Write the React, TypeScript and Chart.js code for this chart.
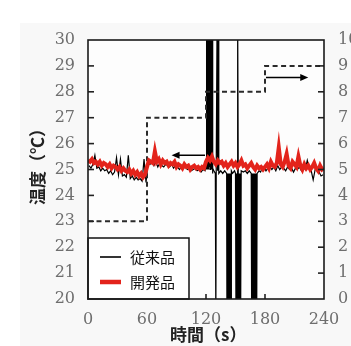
import { useEffect, useRef } from 'react';
import { Chart, registerables } from 'chart.js';
Chart.register(...registerables);

// ---- data ----
const timeTicks = [0, 60, 120, 180, 240];
// 開発品: sampled every 2 s from t = 0 to 240
const redTemps = [
  25.35, 25.3, 25.4, 25.25, 25.3, 25.2, 25.3, 25.15, 25.25, 25.2,
  25.1, 25.2, 25.05, 25.15, 25.1, 25.0, 25.1, 24.95, 25.05, 24.95,
  24.9, 25.0, 24.85, 24.95, 24.8, 24.9, 24.75, 24.85, 24.7, 24.8,
  25.1, 25.35, 25.3, 25.25, 25.7, 25.3, 25.4, 25.2, 25.35, 25.25,
  25.3, 25.15, 25.25, 25.2, 25.3, 25.1, 25.2, 25.15, 25.05, 25.2,
  25.1, 25.15, 25.0, 25.1, 25.15, 25.05, 25.1, 25.0, 25.1, 25.05,
  25.3, 25.45, 25.35, 25.5, 25.3, 25.2, 25.35, 25.25, 25.3, 25.15,
  25.25, 25.1, 25.2, 25.3, 25.15, 25.25, 25.1, 25.2, 25.35, 25.15,
  25.2, 25.05, 25.15, 25.25, 25.1, 25.0, 25.15, 25.05, 25.1, 25.0,
  25.1, 25.2, 25.05, 25.3, 25.15, 25.1, 25.25, 25.85, 25.2, 25.1,
  25.3, 25.6, 25.15, 25.05, 25.3, 25.2, 25.1, 25.5, 25.15, 25.0,
  25.2, 25.05, 25.15, 25.0, 25.1, 25.25, 25.05, 24.95, 25.15, 25.0,
  25.05,
];
// 従来品: t = 1, 3, ..., 119
const blackEarlyTemps = [
  25.15, 25.05, 25.2, 25.55, 25.05, 25.1, 24.95, 25.05, 24.95, 25.0,
  24.85, 24.95, 24.8, 24.9, 25.45, 24.8, 25.4, 24.75, 24.8, 24.7,
  25.55, 24.65, 24.75, 24.6, 24.7, 24.6, 24.65, 24.55, 25.4, 24.5,
  25.25, 25.2, 25.3, 25.15, 25.3, 25.1, 25.25, 25.15, 25.1, 25.2,
  25.15, 25.1, 25.2, 25.05, 25.15, 25.1, 25.0, 25.1, 25.05, 25.1,
  25.0, 25.05, 24.95, 25.0, 25.05, 24.95, 25.0, 24.9, 25.0, 24.95,
];
// 従来品: unstable section [time, temp]
const blackSpikePoints: [number, number][] = [
  [120, 25.2], [120.3, 31], [120.6, 25], [120.9, 31], [121.2, 25.1], [121.5, 31],
  [121.8, 25], [122.1, 31], [122.4, 25.2], [122.7, 31], [123, 25], [123.3, 31],
  [123.6, 25.1], [123.9, 31], [124.2, 25], [124.5, 31], [124.8, 25.1], [125.1, 31],
  [125.4, 25], [125.7, 31], [126, 25], [126.3, 31], [126.6, 24.85], [127, 25.05],
  [128, 24.95], [129.5, 24.85], [130, 19], [130.4, 24.95], [131.3, 31], [131.8, 24.95],
  [132.6, 31], [133, 24.85], [135, 24.95], [137, 24.85], [139, 24.95], [141, 24.85],
  [141.3, 19], [141.6, 24.85], [141.9, 19], [142.2, 24.85], [142.5, 19], [142.8, 24.85],
  [143.1, 19], [143.4, 24.85], [143.7, 19], [144, 24.85], [144.3, 19], [144.6, 24.85],
  [144.9, 19], [145.2, 24.85], [145.5, 19], [145.8, 24.95], [147, 24.85], [149, 24.95],
  [150, 24.85], [150.5, 19], [150.8, 24.85], [151.1, 19], [151.4, 24.85], [151.7, 19],
  [152, 24.85], [152.4, 31], [152.8, 24.85], [153.1, 19], [153.4, 24.85], [153.7, 19],
  [154, 24.85], [154.3, 19], [154.6, 24.85], [154.9, 19], [155.2, 24.85], [155.5, 19],
  [155.8, 24.95], [158, 24.9], [160, 24.95], [162, 24.85], [164, 24.95], [166, 24.85],
  [166.3, 19], [166.6, 24.85], [166.9, 19], [167.2, 24.85], [167.5, 19], [167.8, 24.85],
  [168.1, 19], [168.4, 24.85], [168.7, 19], [169, 24.85], [169.3, 19], [169.6, 24.85],
  [169.9, 19], [170.2, 24.85], [170.5, 19], [170.8, 24.85], [171.1, 19], [171.4, 24.85],
  [171.7, 19], [172, 24.85], [174, 24.95], [175.5, 24.9],
];
// 従来品: t = 177, 179, ..., 239
const blackLateTemps = [
  25.05, 25.1, 24.95, 25.05, 25.1, 25.0, 25.1, 24.95, 25.15, 25.0,
  25.1, 25.05, 24.95, 25.1, 25.0, 25.05, 24.9, 25.05, 25.0, 25.1,
  24.95, 25.1, 25.0, 25.35, 25.05, 24.95, 24.6, 25.0, 25.05, 24.9,
  24.75, 24.8,
];
// step profile (right axis)
const setTimes = [0, 60, 60, 120, 120, 180, 180, 240];
const setLevels = [3, 3, 7, 7, 8, 8, 9, 9];
// arrows (right-axis level)
const arrowFrom = [119, 181];
const arrowTo = [85, 224];
const arrowLevels = [5.55, 8.55];
const legendLabels = ['従来品', '開発品'];
const yTitle = '温度（℃）';
const xTitle = '時間（s）';

const W = 351;
const H = 346;

export default function App() {
  const ref = useRef<HTMLCanvasElement | null>(null);
  useEffect(() => {
    document.body.style.margin = '0';
    const canvas = ref.current;
    if (!canvas) return;

    const redData = redTemps.map((v, i) => ({ x: i * 2, y: v }));
    const blackData = [
      ...blackEarlyTemps.map((v, i) => ({ x: i * 2 + 1, y: v })),
      ...blackSpikePoints.map(([t, v]) => ({ x: t, y: v })),
      ...blackLateTemps.map((v, i) => ({ x: 177 + i * 2, y: v })),
    ];
    const setData = setTimes.map((t, i) => ({ x: t, y: setLevels[i] }));

    const cjk = "'Noto Sans CJK JP', 'Noto Sans', sans-serif";
    const serif = "'DejaVu Serif', 'Liberation Serif', serif";

    const decor = {
      id: 'decor',
      beforeDraw(chart: any) {
        const { ctx, chartArea: a } = chart;
        ctx.save();
        ctx.fillStyle = '#ffffff';
        ctx.fillRect(0, 0, W, H);
        ctx.fillStyle = '#f8f8f8';
        ctx.fillRect(20, 23, W - 20, H - 23);
        ctx.fillStyle = '#fdfdfd';
        ctx.fillRect(a.left, a.top, a.right - a.left, a.bottom - a.top);
        ctx.restore();
      },
      afterDraw(chart: any) {
        const { ctx, chartArea: a, scales } = chart;
        const xs = scales.x;
        const y2 = scales.y2;
        const y = scales.y;
        ctx.save();
        // arrows
        ctx.strokeStyle = '#000';
        ctx.fillStyle = '#000';
        ctx.lineWidth = 1.5;
        arrowFrom.forEach((f, i) => {
          const x0 = xs.getPixelForValue(f);
          const x1 = xs.getPixelForValue(arrowTo[i]);
          const yy = y2.getPixelForValue(arrowLevels[i]);
          const dir = Math.sign(x1 - x0);
          ctx.beginPath();
          ctx.moveTo(x0, yy);
          ctx.lineTo(x1 - dir * 6, yy);
          ctx.stroke();
          ctx.beginPath();
          ctx.moveTo(x1, yy);
          ctx.lineTo(x1 - dir * 8, yy - 3.5);
          ctx.lineTo(x1 - dir * 8, yy + 3.5);
          ctx.closePath();
          ctx.fill();
        });
        // inward ticks
        ctx.strokeStyle = '#222';
        ctx.lineWidth = 1.6;
        for (let v = 21; v < 30; v++) {
          const py = y.getPixelForValue(v);
          ctx.beginPath();
          ctx.moveTo(a.left, py);
          ctx.lineTo(a.left + 6, py);
          ctx.stroke();
        }
        for (let v = 1; v < 10; v++) {
          const py = y2.getPixelForValue(v);
          ctx.beginPath();
          ctx.moveTo(a.right, py);
          ctx.lineTo(a.right - 6, py);
          ctx.stroke();
        }
        timeTicks.slice(1, -1).forEach((t) => {
          const px = xs.getPixelForValue(t);
          ctx.beginPath();
          ctx.moveTo(px, a.bottom);
          ctx.lineTo(px, a.bottom - 5);
          ctx.stroke();
        });
        // legend box
        const bw = 101;
        const bh = 61;
        const bx = a.left;
        const by = a.bottom - bh;
        ctx.fillStyle = '#ffffff';
        ctx.fillRect(bx, by, bw, bh);
        ctx.strokeStyle = '#111';
        ctx.lineWidth = 1.5;
        ctx.strokeRect(bx, by, bw, bh);
        const rows = [by + 19, by + 44];
        const colors = ['#000', '#e3231b'];
        const widths = [1.6, 4.5];
        rows.forEach((ry, i) => {
          ctx.strokeStyle = colors[i];
          ctx.lineWidth = widths[i];
          ctx.beginPath();
          ctx.moveTo(bx + 12, ry);
          ctx.lineTo(bx + 33, ry);
          ctx.stroke();
          ctx.fillStyle = '#111';
          ctx.font = `15px ${cjk}`;
          ctx.textAlign = 'left';
          ctx.textBaseline = 'middle';
          ctx.fillText(legendLabels[i], bx + 42, ry);
        });
        // frame
        ctx.strokeStyle = '#1a1a1a';
        ctx.lineWidth = 1.6;
        ctx.strokeRect(a.left, a.top, a.right - a.left, a.bottom - a.top);
        // axis titles
        ctx.fillStyle = '#222';
        ctx.font = `bold 17px ${cjk}`;
        ctx.textAlign = 'left';
        ctx.textBaseline = 'middle';
        ctx.fillText(xTitle, 170, 335);
        ctx.save();
        ctx.translate(38, 205);
        ctx.rotate(-Math.PI / 2);
        ctx.fillText(yTitle, 0, 0);
        ctx.restore();
        ctx.restore();
      },
    };

    const tickFont = { family: serif, size: 16 };
    const chart = new Chart(canvas, {
      type: 'line',
      data: {
        datasets: [
          {
            label: legendLabels[1],
            data: redData,
            borderColor: '#e3231b',
            borderWidth: 4,
            pointRadius: 0,
            yAxisID: 'y',
            order: 0,
          },
          {
            label: 'set',
            data: setData,
            borderColor: '#2a2a2a',
            borderWidth: 2,
            borderDash: [5, 3.5],
            pointRadius: 0,
            yAxisID: 'y2',
            order: 1,
          },
          {
            label: legendLabels[0],
            data: blackData,
            borderColor: '#000',
            borderWidth: 1.2,
            pointRadius: 0,
            yAxisID: 'y',
            order: 2,
          },
        ],
      },
      options: {
        responsive: false,
        animation: false,
        events: [],
        layout: { padding: { top: 40, left: 0, right: 0, bottom: 0 } },
        plugins: { legend: { display: false }, tooltip: { enabled: false } },
        scales: {
          x: {
            type: 'linear',
            min: 0,
            max: 240,
            afterFit: (s: any) => { s.height = 47; },
            afterBuildTicks: (s: any) => { s.ticks = timeTicks.map((v) => ({ value: v })); },
            grid: { display: false, drawTicks: false },
            border: { display: false },
            ticks: { font: tickFont, color: '#6e6e6e', padding: 11, maxRotation: 0 },
          },
          y: {
            position: 'left',
            min: 20,
            max: 30,
            afterFit: (s: any) => { s.width = 88; },
            grid: { display: false, drawTicks: false },
            border: { display: false },
            ticks: { stepSize: 1, font: tickFont, color: '#6e6e6e', padding: 13 },
          },
          y2: {
            position: 'right',
            min: 0,
            max: 10,
            afterFit: (s: any) => { s.width = 27; },
            grid: { display: false, drawTicks: false },
            border: { display: false },
            ticks: { stepSize: 1, font: tickFont, color: '#6e6e6e', padding: 14 },
          },
        },
      },
      plugins: [decor],
    });
    return () => chart.destroy();
  }, []);
  return (
    <div style={{ width: W, height: H }}>
      <canvas ref={ref} width={W} height={H} style={{ display: 'block' }} />
    </div>
  );
}
